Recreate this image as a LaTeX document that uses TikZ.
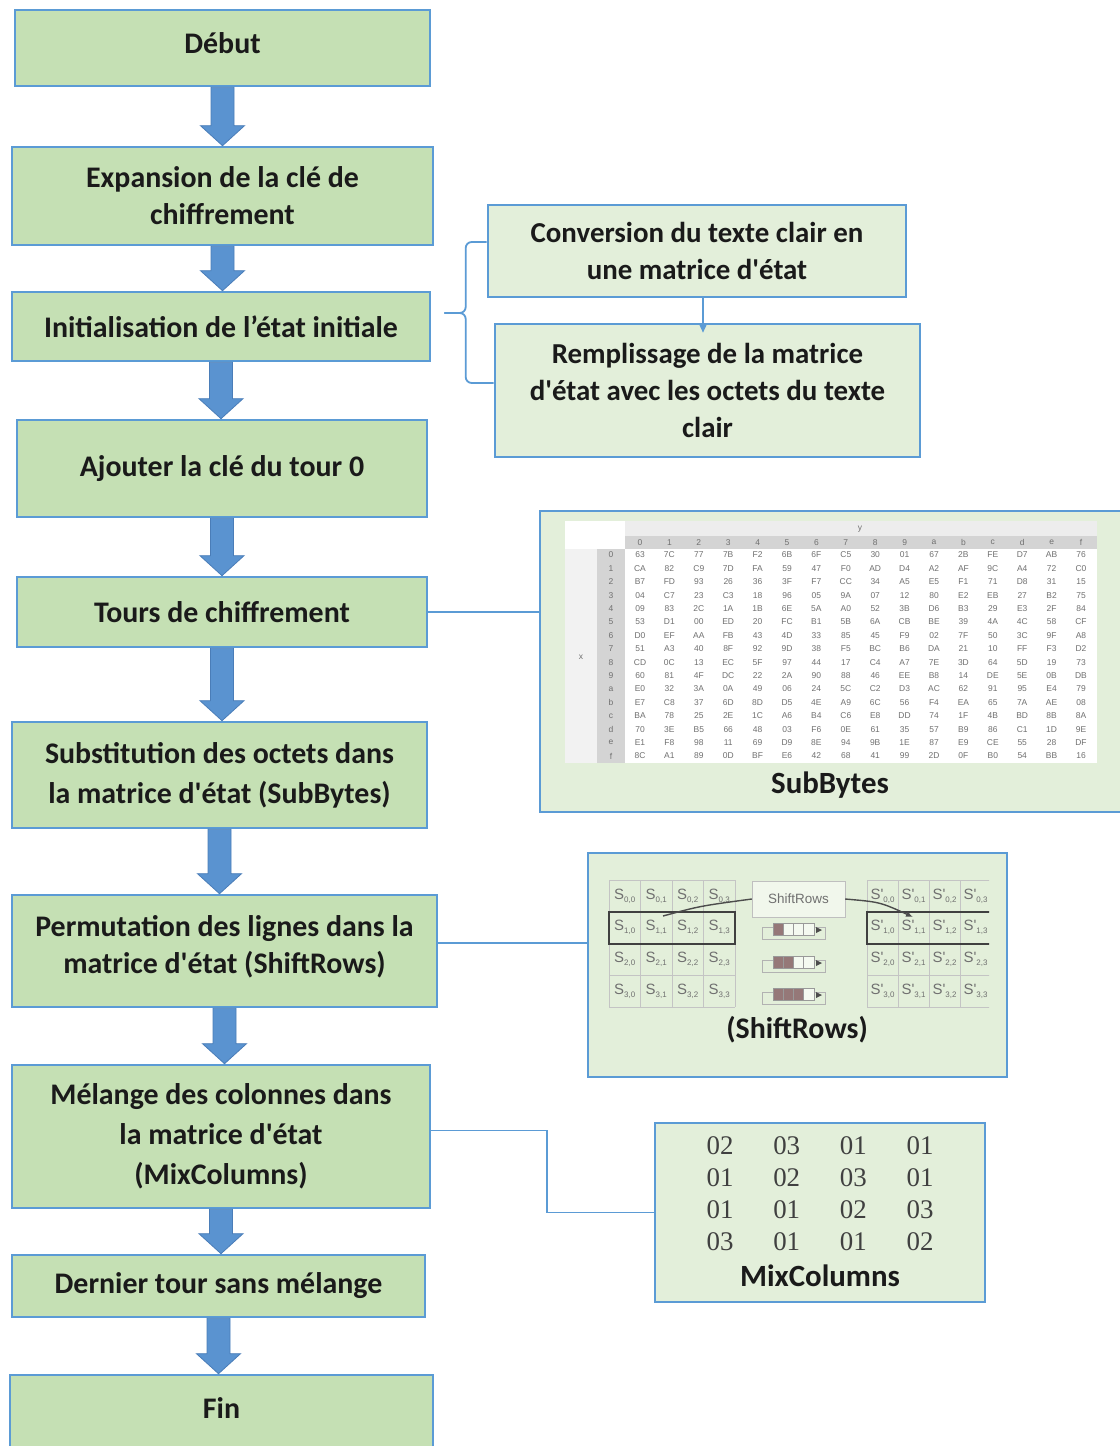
\documentclass[tikz,border=0pt]{standalone}
\usepackage{fontspec}
\setmainfont{Carlito}
\newfontfamily\numfont{Liberation Serif}
\newfontfamily\tabfont{Liberation Sans}
\usetikzlibrary{calc,arrows.meta}

\definecolor{boxgreen}{HTML}{C5E0B4}
\definecolor{palegreen}{HTML}{E3EFDA}
\definecolor{boxblue}{HTML}{5B9BD5}
\definecolor{arrowblue}{HTML}{5A93D0}
\definecolor{arrowedge}{HTML}{4A7DB8}
\definecolor{cellgray}{HTML}{C4C4C4}
\definecolor{txtgray}{HTML}{707070}
\definecolor{barfill}{HTML}{957878}
\definecolor{ink}{HTML}{1A1A1A}

\newcommand\apos{\textquotesingle}
% state cell label: letter with a lowered index
\newcommand\srlab[2]{#1\raisebox{-3bp}{\fontsize{8}{8}\selectfont #2}}
% lift a one-line label inside its box without changing the box size
\newcommand\lift[2]{\raisebox{#1}[\height][\depth]{#2}}

% block arrow between two stacked boxes
\newcommand\flowarrow[2]{%
  \path[bigarrow] let \p1=(#1.south), \p2=(#2.north) in
    (\x1-11.5bp,\y1) -- (\x1-11.5bp,\y2+20bp) -- (\x1-22bp,\y2+20bp) -- (\x1,\y2)
    -- (\x1+22bp,\y2+20bp) -- (\x1+11.5bp,\y2+20bp) -- (\x1+11.5bp,\y1) -- cycle;}

\tikzset{
  stepbox/.style={draw=boxblue, line width=2.6bp, fill=boxgreen, inner sep=0pt,
    align=center, text=ink, font=\bfseries\fontsize{30}{37}\selectfont},
  sidebox/.style={draw=boxblue, line width=2.6bp, fill=palegreen, inner sep=0pt,
    align=center, text=ink, font=\bfseries\fontsize{29}{37}\selectfont},
  panel/.style={draw=boxblue, line width=2.6bp, fill=palegreen, inner sep=0pt},
  paneltitle/.style={inner sep=0pt, text=ink, font=\bfseries\fontsize{31}{31}\selectfont},
  link/.style={draw=boxblue, line width=1.8bp},
  bigarrow/.style={fill=arrowblue, draw=arrowedge, line width=0.8bp},
  tabtext/.style={inner sep=0pt, text=txtgray, font=\tabfont\fontsize{8.5}{8.5}\selectfont},
  cellline/.style={draw=cellgray, line width=0.8bp},
  celltext/.style={inner sep=0pt, text=txtgray, font=\tabfont\fontsize{15}{15}\selectfont},
  rowframe/.style={draw=black!75, line width=2bp},
  darkline/.style={draw=black!70, line width=1.4bp},
  numtext/.style={inner sep=0pt, text=black!75, font=\numfont\fontsize{27}{27}\selectfont},
}

\begin{document}
\begin{tikzpicture}[x=1bp,y=-1bp]
\useasboundingbox (0,0) rectangle (1119,1446);
\fill[white] (0,0) rectangle (1119,1446);

% ---- main flow ----
\node[stepbox, minimum width=415bp, minimum height=76bp] (debut) at (222.5,48) {\lift{5bp}{Début}};
\node[stepbox, minimum width=421bp, minimum height=98bp] (expansion) at (222.5,196)
  {Expansion de la clé de\\chiffrement};
\node[stepbox, minimum width=418bp, minimum height=69bp] (init) at (221,326.5)
  {Initialisation de l’état initiale};
\node[stepbox, minimum width=410bp, minimum height=97bp] (ajouter) at (222,468.5)
  {Ajouter la clé du tour 0};
\node[stepbox, minimum width=410bp, minimum height=70bp] (tours) at (222,612)
  {Tours de chiffrement};
\node[stepbox, minimum width=415bp, minimum height=106bp] (subst) at (219.5,775)
  {Substitution des octets dans\\[3bp]la matrice d\apos état (SubBytes)};
\node[stepbox, minimum width=425bp, minimum height=112bp] (perm) at (224.5,951)
  {Permutation des lignes dans la\\matrice d\apos état (ShiftRows)\\[-23bp]\mbox{}};
\node[stepbox, minimum width=418bp, minimum height=143bp] (melange) at (221,1136.5)
  {Mélange des colonnes dans\\[3bp]la matrice d\apos état\\[3bp](MixColumns)};
\node[stepbox, minimum width=413bp, minimum height=62bp] (dernier) at (218.5,1286)
  {Dernier tour sans mélange};
\node[stepbox, minimum width=423bp, minimum height=77bp] (fin) at (221.5,1413.5) {\lift{6bp}{Fin}};

\flowarrow{debut}{expansion}
\flowarrow{expansion}{init}
\flowarrow{init}{ajouter}
\flowarrow{ajouter}{tours}
\flowarrow{tours}{subst}
\flowarrow{subst}{perm}
\flowarrow{perm}{melange}
\flowarrow{melange}{dernier}
\flowarrow{dernier}{fin}

% ---- initialisation details ----
\node[sidebox, minimum width=418bp, minimum height=92bp] (conv) at (697,251)
  {Conversion du texte clair en\\une matrice d\apos état};
\node[sidebox, minimum width=425bp, minimum height=133bp] (remp) at (707.5,390.5)
  {Remplissage de la matrice\\d\apos état avec les octets du texte\\clair};

\coordinate (bnub) at ($(init.east)+(13,-13.5)$);
\draw[link, rounded corners=6bp] (bnub) -| ($(conv.west)+(-21,-9)$) -- ($(conv.west)+(0,-9)$);
\draw[link, rounded corners=6bp] (bnub) -| ($(remp.west)+(-28,-7.5)$) -- ($(remp.west)+(0,-7.5)$);
\coordinate (convdrop) at ($(conv.south |- remp.north)+(6,10)$);
\draw[link, line width=1.3bp, -{Triangle[length=9bp,width=8bp]}]
  ($(conv.south)+(6,0)$) -- (convdrop);

% ---- SubBytes panel ----
\node[panel, minimum width=590bp, minimum height=301bp] (subpanel) at (835,661.5) {};
\draw[link] (tours.east) -- (tours.east -| subpanel.west);

\fill[white] (565,521) rectangle (1097,763);
\fill[black!7] (625,521) rectangle (1097,536);
\fill[black!17] (625,536) rectangle (1097,549);
\fill[black!5] (565,549) rectangle (597,763);
\fill[black!17] (597,549) rectangle (625,763);
\node[tabtext] (ylab) at (860,529) {y};
\node[tabtext] (xlab) at (581,657) {x};
\foreach \h [count=\j from 0] in {0,1,2,3,4,5,6,7,8,9,a,b,c,d,e,f} {
  \node[tabtext] (colh\j) at (640+29.4*\j,542.5) {\h};
  \node[tabtext] (rowh\j) at (611,555+13.4*\j) {\h};
}
\foreach \row [count=\i from 0] in {
  {63,7C,77,7B,F2,6B,6F,C5,30,01,67,2B,FE,D7,AB,76},
  {CA,82,C9,7D,FA,59,47,F0,AD,D4,A2,AF,9C,A4,72,C0},
  {B7,FD,93,26,36,3F,F7,CC,34,A5,E5,F1,71,D8,31,15},
  {04,C7,23,C3,18,96,05,9A,07,12,80,E2,EB,27,B2,75},
  {09,83,2C,1A,1B,6E,5A,A0,52,3B,D6,B3,29,E3,2F,84},
  {53,D1,00,ED,20,FC,B1,5B,6A,CB,BE,39,4A,4C,58,CF},
  {D0,EF,AA,FB,43,4D,33,85,45,F9,02,7F,50,3C,9F,A8},
  {51,A3,40,8F,92,9D,38,F5,BC,B6,DA,21,10,FF,F3,D2},
  {CD,0C,13,EC,5F,97,44,17,C4,A7,7E,3D,64,5D,19,73},
  {60,81,4F,DC,22,2A,90,88,46,EE,B8,14,DE,5E,0B,DB},
  {E0,32,3A,0A,49,06,24,5C,C2,D3,AC,62,91,95,E4,79},
  {E7,C8,37,6D,8D,D5,4E,A9,6C,56,F4,EA,65,7A,AE,08},
  {BA,78,25,2E,1C,A6,B4,C6,E8,DD,74,1F,4B,BD,8B,8A},
  {70,3E,B5,66,48,03,F6,0E,61,35,57,B9,86,C1,1D,9E},
  {E1,F8,98,11,69,D9,8E,94,9B,1E,87,E9,CE,55,28,DF},
  {8C,A1,89,0D,BF,E6,42,68,41,99,2D,0F,B0,54,BB,16}} {
  \foreach \v [count=\j from 0] in \row {
    \node[tabtext] (sb\i-\j) at (640+29.4*\j,555+13.4*\i) {\v};
  }
}
\node[paneltitle] (subtitle) at (830,785) {SubBytes};

% ---- ShiftRows panel ----
\node[panel, minimum width=419bp, minimum height=224bp] (shiftpanel) at (797.5,965) {};
\draw[link] ($(perm.east)+(0,-8)$) -- ($(perm.east -| shiftpanel.west)+(0,-8)$);

% state before the shift
\foreach \k in {0,...,4} {
  \draw[cellline] (609+31.5*\k,880) -- (609+31.5*\k,1007);
  \draw[cellline] (609,880+31.75*\k) -- (735,880+31.75*\k);
}
\foreach \r in {0,...,3} \foreach \c in {0,...,3}
  \node[celltext] (sl\r\c) at (624.75+31.5*\c,895.9+31.75*\r) {\srlab{S}{\r,\c}};
\draw[rowframe] (609,911.75) rectangle (735,943.5);

% state after the shift
\begin{scope}
  \clip (860,870) rectangle (989,1012);
  \foreach \k in {0,...,4} {
    \draw[cellline] (867+31*\k,880) -- (867+31*\k,1007);
    \draw[cellline] (867,880+31.75*\k) -- (991,880+31.75*\k);
  }
  \foreach \r in {0,...,3} \foreach \c in {0,...,3}
    \node[celltext] (sr\r\c) at (882.5+31*\c,895.9+31.75*\r) {\srlab{S'}{\r,\c}};
  \draw[rowframe] (995,911.75) -- (867,911.75) -- (867,943.5) -- (995,943.5);
\end{scope}

\node[draw=black!25, fill=palegreen!50!white, minimum width=93bp, minimum height=36bp,
  inner sep=0pt, text=txtgray, font=\tabfont\fontsize{13.5}{13.5}\selectfont] (srbox) at (798.5,899) {ShiftRows};
\coordinate (srfrom) at (663,916);
\coordinate (srto) at (913,917);
\draw[darkline] (srfrom) .. controls (700,906) .. (srbox.west);
\draw[darkline, -{Latex[length=7bp,width=6bp]}] (srbox.east) .. controls (880,902) .. (srto);

% row rotation icons
\foreach \yc/\k in {930/1,963/2,995/3} {
  \draw[black!30, line width=0.6bp] (762,\yc-3) rectangle (825,\yc+9);
  \fill[palegreen!40!white] (773,\yc-7) rectangle (814,\yc+5);
  \fill[barfill] (773,\yc-7) rectangle (773+10.25*\k,\yc+5);
  \draw[black!40, line width=0.6bp] (773,\yc-7) rectangle (814,\yc+5);
  \foreach \m in {1,2,3} \draw[black!40, line width=0.6bp] (773+10.25*\m,\yc-7) -- (773+10.25*\m,\yc+5);
  \fill[black!70] (816,\yc-3) -- (822,\yc) -- (816,\yc+3) -- cycle;
}
\node[paneltitle, font=\bfseries\fontsize{30}{30}\selectfont] (shifttitle) at (797,1030) {(ShiftRows)};

% ---- MixColumns panel ----
\node[panel, minimum width=330bp, minimum height=179bp] (mixpanel) at (820,1212.5) {};
\draw[link] ($(melange.east)+(0,-6)$) -- ++(116,0) |- (mixpanel.west);
\foreach \row [count=\i from 0] in {{02,03,01,01},{01,02,03,01},{01,01,02,03},{03,01,01,02}} {
  \foreach \v [count=\j from 0] in \row {
    \node[numtext] (mc\i-\j) at (720+66.7*\j,1146+32*\i) {\v};
  }
}
\node[paneltitle] (mixtitle) at (820,1276) {MixColumns};
\end{tikzpicture}
\end{document}
